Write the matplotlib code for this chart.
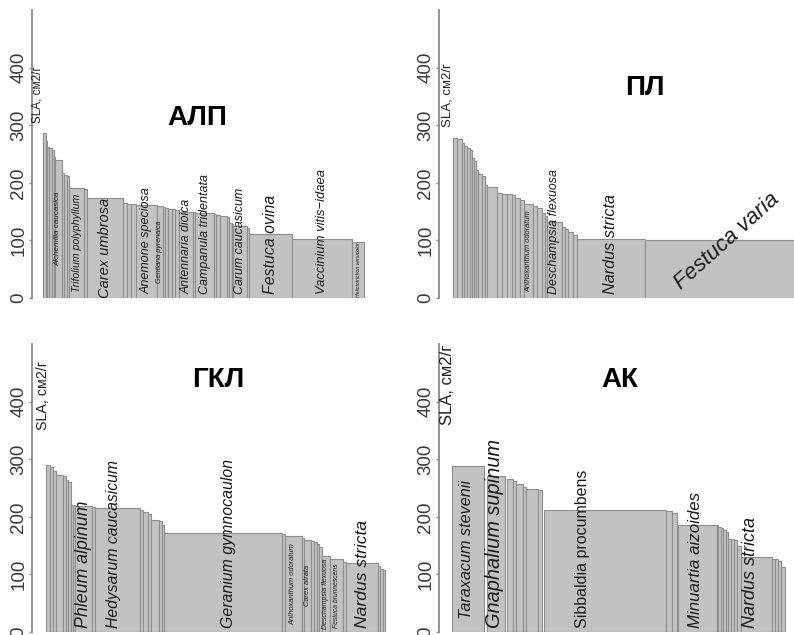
import matplotlib
matplotlib.use('Agg')
import matplotlib.pyplot as plt
import numpy as np

plt.rcParams['font.family'] = ['Liberation Sans', 'DejaVu Sans']

# ---------------- data ----------------
# АЛП
alp_names = ['', '', '', '', '', '', 'Alchemilla caucasica', '', '', '',
             'Trifolium polyphyllum', '', 'Carex umbrosa', '', '', '',
             'Anemone speciosa', 'Gentiana pyrenaica', '', '', '', '', '',
             'Antennaria dioica', '', 'Campanula tridentata', '', '', '', '', '', '',
             'Carum caucasicum', '', 'Festuca ovina', 'Vaccinium vitis\u2212idaea',
             'Helictotrichon versicolor']
alp_abund = [2.4, 1.6, 2.0, 2.4, 2.3, 1.0, 6.7, 2.6, 2.4, 2.3, 15.0, 3.3, 35.4, 4.0, 4.3,
             5.0, 20.7, 6.0, 2.3, 3.3, 3.4, 3.3, 4.3, 14.0, 1.7, 19.3, 1.7, 4.0, 6.7, 2.6,
             2.4, 1.6, 14.0, 2.0, 42.7, 60.3, 12.0]
alp_sla = [287, 272, 263, 261, 257, 245, 240, 217, 214, 211, 191, 190, 174, 165, 164,
           163, 161, 160, 158, 156, 155, 154, 153, 149, 149, 147, 146, 144, 142, 140,
           131, 128, 125, 121, 111, 103, 98]

# ПЛ
pl_names = [''] * 19 + ['Anthoxanthum odoratum', '', '', '', '', 'Deschampsia flexuosa',
                        '', '', '', '', 'Nardus stricta', 'Festuca varia']
pl_abund = [4.0, 4.4, 2.3, 2.7, 3.3, 2.0, 2.3, 2.0, 2.0, 3.3, 3.4, 2.0, 10.0, 5.0, 5.0,
            5.0, 3.3, 5.0, 3.7, 9.3, 4.0, 4.4, 3.3, 1.7, 15.0, 3.3, 3.4, 4.3, 4.0, 68.3,
            163.0]
pl_sla = [277, 276, 269, 264, 261, 257, 243, 238, 222, 216, 211, 197, 192, 183, 181,
          181, 178, 174, 171, 163, 159, 156, 147, 143, 132, 124, 119, 114, 110, 103, 101]

# ГКЛ
gkl_names = ['', '', '', '', '', '', '', '', '', 'Phleum alpinum', '',
             'Hedysarum caucasicum', '', '', '', '', '', '', 'Geranium gymnocaulon', '',
             'Anthoxanthum odoratum', '', 'Carex atrata', '', '', '', '',
             'Deschampsia flexuosa', 'Festuca brunnescens', '', 'Nardus stricta', '', '', '']
gkl_abund = [4.0, 2.7, 3.3, 7.3, 2.7, 2.3, 2.4, 2.6, 1.7, 16.7, 3.3, 45.0, 3.3, 5.0, 2.4,
             8.6, 2.4, 2.3, 117.7, 3.3, 16.7, 2.3, 6.7, 3.3, 3.3, 2.0, 2.4, 8.3, 13.3,
             2.7, 32.3, 1.7, 2.7, 2.3]
gkl_sla = [290, 287, 280, 272, 270, 264, 261, 221, 220, 219, 217, 216, 212, 209, 204,
           195, 192, 186, 172, 170, 166, 164, 160, 158, 156, 153, 148, 132, 126, 121,
           119, 114, 110, 107]

# АК
ak_names = ['Taraxacum stevenii', '', 'Gnaphalium supinum', '', '', '', '', '', '', '',
            '', 'Sibbaldia procumbens', '', '', '', 'Minuartia aizoides', '', '', '', '',
            '', '', '', '', '', 'Nardus stricta', '', '', '', '']
ak_abund = [32.0, 2.4, 18.3, 2.3, 6.0, 2.7, 6.7, 3.3, 12.3, 3.4, 2.3, 121.7, 6.0, 5.0,
            1.6, 38.4, 1.7, 2.4, 2.6, 2.7, 2.3, 2.9, 2.8, 2.7, 4.3, 30.7, 3.3, 3.3, 2.4,
            4.3]
ak_sla = [288, 0, 271, 0, 266, 263, 257, 252, 249, 246, 0, 212, 210, 206, 0, 186, 185,
          183, 181, 177, 174, 162, 161, 159, 150, 130, 127, 126, 124, 112]

titles = ['АЛП', 'ПЛ', 'ГКЛ', 'АК']
y_ticks = [0, 100, 200, 300, 400]
y_label = 'SLA, см2/г'

# ---------------- styles / layout ----------------
W, H = 794, 635
DPI = 100
PX = 0.576  # pixels per SLA unit

layout = [
    dict(spine=32, base=298, start=43.3, right=380, title=(197, 118), lab=(37.5, 123), labfs=8.5),
    dict(spine=439, base=298, start=453.3, right=794, title=(645, 88), lab=(447, 127), labfs=9.5),
    dict(spine=32, base=632, start=46, right=395, title=(218, 380), lab=(43, 430), labfs=10.3),
    dict(spine=439, base=632, start=452.3, right=794, title=(620, 380), lab=(448, 425), labfs=12.0),
]

label_style = [
    {'Alchemilla caucasica': dict(fs=5.8), 'Trifolium polyphyllum': dict(fs=7.6),
     'Carex umbrosa': dict(fs=10.5), 'Anemone speciosa': dict(fs=9.0),
     'Gentiana pyrenaica': dict(fs=5.2), 'Antennaria dioica': dict(fs=8.8),
     'Campanula tridentata': dict(fs=9.0), 'Carum caucasicum': dict(fs=8.9),
     'Festuca ovina': dict(fs=11.4), 'Vaccinium vitis\u2212idaea': dict(fs=9.4),
     'Helictotrichon versicolor': dict(fs=3.7)},
    {'Anthoxanthum odoratum': dict(fs=5.4), 'Deschampsia flexuosa': dict(fs=8.9),
     'Nardus stricta': dict(fs=11.7), 'Festuca varia': dict(fs=16, rot=42)},
    {'Phleum alpinum': dict(fs=12.8), 'Hedysarum caucasicum': dict(fs=11.3, xf=0.41),
     'Geranium gymnocaulon': dict(fs=11.4, xf=0.55), 'Anthoxanthum odoratum': dict(fs=5.4),
     'Carex atrata': dict(fs=5.4), 'Deschampsia flexuosa': dict(fs=5.0),
     'Festuca brunnescens': dict(fs=4.9), 'Nardus stricta': dict(fs=12.6)},
    {'Taraxacum stevenii': dict(fs=11.7, xf=0.45), 'Gnaphalium supinum': dict(fs=14.4, xf=0.45),
     'Sibbaldia procumbens': dict(fs=11.5, xf=0.32, upright=True),
     'Minuartia aizoides': dict(fs=12.2, xf=0.44), 'Nardus stricta': dict(fs=13.0, xf=0.3)},
]

BAR_FILL = '#c2c2c2'
BAR_EDGE = '#8e8e8e'
AXIS_COL = '#8a8a8a'
TEXT_COL = '#1a1a1a'

fig = plt.figure(figsize=(W / DPI, H / DPI), dpi=DPI)
renderer = fig.canvas.get_renderer()

panels = [(alp_names, alp_abund, alp_sla), (pl_names, pl_abund, pl_sla),
          (gkl_names, gkl_abund, gkl_sla), (ak_names, ak_abund, ak_sla)]

for p, ((names, abund, sla), L, title, styles) in enumerate(zip(panels, layout, titles, label_style)):
    axh = 500 * PX
    axw = L['right'] - L['spine']
    ax = fig.add_axes([L['spine'] / W, (H - L['base']) / H, axw / W, axh / H])
    off = L['start'] - L['spine']
    ax.set_xlim(-off, axw - off)
    ax.set_ylim(0, 500)
    ax.patch.set_alpha(0)

    widths = np.array(abund, dtype=float)
    lefts = np.concatenate([[0], np.cumsum(widths)[:-1]])
    heights = np.array(sla, dtype=float)
    ax.bar(lefts, heights, width=widths, align='edge', color=BAR_FILL,
           edgecolor=BAR_EDGE, linewidth=0.8)

    for s in ['top', 'right', 'bottom']:
        ax.spines[s].set_visible(False)
    ax.spines['left'].set_bounds(0, 500)
    ax.spines['left'].set_color(AXIS_COL)
    ax.spines['left'].set_linewidth(1.3)
    ax.set_xticks([])
    ax.set_yticks(y_ticks)
    ax.set_yticklabels([str(v) for v in y_ticks], rotation=90, va='center',
                       fontsize=13.5, color='#3a3a3a')
    ax.tick_params(axis='y', length=2, width=1.0, color=AXIS_COL, pad=1.5)

    # species labels
    for nm, l, w, h in zip(names, lefts, widths, heights):
        if not nm:
            continue
        st = styles.get(nm, {})
        fs = st.get('fs', 8)
        rot = st.get('rot', 90)
        xf = st.get('xf', 0.5)
        t = ax.text(l + w * xf, 0, nm, rotation=rot, ha='center', va='center',
                    fontsize=fs, color=TEXT_COL,
                    style='normal' if st.get('upright') else 'italic')
        bb = t.get_window_extent(renderer)
        th = bb.height
        bar_px = h * PX
        if th < bar_px:
            t.set_y(h / 2)
        else:
            t.set_y((4 + th / 2) / PX)

    fig.text(L['title'][0] / W, 1 - L['title'][1] / H, title, ha='center', va='center',
             fontsize=20, fontweight='bold', color='black')
    fig.text(L['lab'][0] / W, 1 - L['lab'][1] / H, y_label, rotation=90, ha='center',
             va='bottom', fontsize=L['labfs'], color='#222222')

fig.savefig('out.png', dpi=DPI)
